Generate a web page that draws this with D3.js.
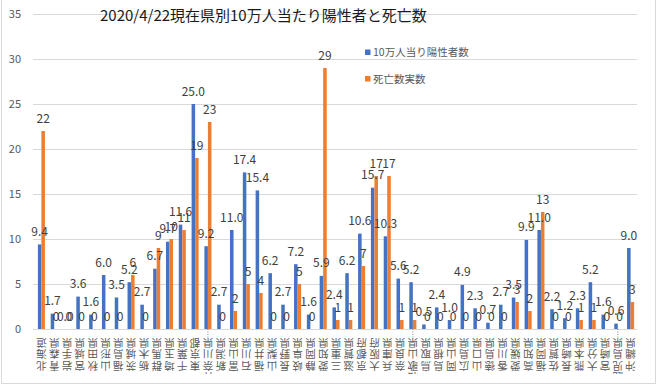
<!DOCTYPE html>
<html>
<head>
<meta charset="utf-8">
<style>
body { margin: 0; background: #fff; }
svg { display: block; font-family: "Noto Sans CJK JP", "Noto Sans", sans-serif; }
.grid line { stroke: #d9d9d9; stroke-width: 1px; }
.ytick { fill: #595959; font-size: 11px; }
.val { fill: #404040; font-size: 12px; }
.xlab { fill: #595959; font-size: 10.5px; }
.leg { fill: #595959; font-size: 10.5px; }
</style>
</head>
<body>
<svg width="658" height="387"></svg>
<script src="https://d3js.org/d3.v7.min.js"></script>
<script>

// 都道府県
var prefectures = ["北海道","青森県","岩手県","宮城県","秋田県","山形県","福島県","茨城県","栃木県","群馬県",
  "埼玉県","千葉県","東京都","神奈川県","新潟県","富山県","石川県","福井県","山梨県","長野県",
  "岐阜県","静岡県","愛知県","三重県","滋賀県","京都府","大阪府","兵庫県","奈良県","和歌山県",
  "鳥取県","島根県","岡山県","広島県","山口県","徳島県","香川県","愛媛県","高知県","福岡県",
  "佐賀県","長崎県","熊本県","大分県","宮崎県","鹿児島県","沖縄県"];

// 10万人当り陽性者数
var positives = [9.4,1.7,0.0,3.6,1.6,6.0,3.5,5.2,2.7,6.7,
  9.7,11.6,25.0,9.2,2.7,11.0,17.4,15.4,6.2,2.7,
  7.2,1.6,5.9,2.4,6.2,10.6,15.7,10.3,5.6,5.2,
  0.5,2.4,1.0,4.9,2.3,0.7,2.7,3.5,9.9,11.0,
  2.2,1.2,2.3,5.2,1.6,0.6,9.0];

// 死亡数実数
var deaths = [22,0,0,0,0,0,0,6,0,9,
  10,11,19,23,0,2,5,4,0,0,
  5,0,29,1,1,7,17,17,1,1,
  0,0,0,0,0,0,0,3,2,13,
  0,0,1,1,0,0,3];

var seriesNames = ["10万人当り陽性者数", "死亡数実数"];
var yTicks = [0,5,10,15,20,25,30,35];
var title = "2020/4/22現在県別10万人当たり陽性者と死亡数";

var colors = ["#4472C4", "#ED7D31"];

var svg = d3.select("svg");

// frame
svg.append("rect")
  .attr("x", 1.5).attr("y", -2)
  .attr("width", 654).attr("height", 385.5)
  .attr("fill", "none")
  .attr("stroke", "#d9d9d9");

var x = d3.scaleBand()
  .domain(prefectures)
  .range([35, 637])
  .paddingInner(0.45)
  .paddingOuter(0.225);

var xs = d3.scaleBand()
  .domain([0, 1])
  .range([0, x.bandwidth()]);

var y = d3.scaleLinear()
  .domain([0, 35])
  .range([329, 14]);

// gridlines
svg.append("g").attr("class", "grid")
  .selectAll("line")
  .data(yTicks)
  .enter().append("line")
    .attr("x1", 33).attr("x2", 637)
    .attr("y1", function(d){ return Math.round(y(d)) + 0.5; })
    .attr("y2", function(d){ return Math.round(y(d)) + 0.5; });

// y labels
svg.append("g")
  .selectAll("text")
  .data(yTicks)
  .enter().append("text")
    .attr("class", "ytick")
    .attr("x", 21)
    .attr("y", function(d){ return y(d) + 4; })
    .attr("text-anchor", "end")
    .text(function(d){ return d; });

// bars
var rows = prefectures.map(function(p, i){ return {name: p, vals: [positives[i], deaths[i]]}; });

var groups = svg.append("g")
  .selectAll("g")
  .data(rows)
  .enter().append("g")
    .attr("transform", function(d){ return "translate(" + x(d.name) + ",0)"; });

groups.selectAll("rect")
  .data(function(d){ return d.vals; })
  .enter().append("rect")
    .attr("x", function(d, i){ return xs(i); })
    .attr("width", xs.bandwidth())
    .attr("y", function(d){ return y(d); })
    .attr("height", function(d){ return y(0) - y(d); })
    .attr("fill", function(d, i){ return colors[i]; });

groups.selectAll("text")
  .data(function(d){ return d.vals; })
  .enter().append("text")
    .attr("class", "val")
    .attr("x", function(d, i){ return xs(i) + xs.bandwidth() / 2; })
    .attr("y", function(d){ return y(d) - 8.5; })
    .attr("text-anchor", "middle")
    .text(function(d, i){ return i === 0 ? d.toFixed(1) : d3.format("d")(d); });

// x labels (vertical, upside down)
svg.append("clipPath").attr("id", "labclip")
  .append("rect").attr("x", 0).attr("y", 331).attr("width", 658).attr("height", 43);

var xl = svg.append("g").attr("clip-path", "url(#labclip)");
rows.forEach(function(d){
  var cx = x(d.name) + x.bandwidth() / 2;
  var chars = d.name.split("").reverse();
  chars.forEach(function(c, j){
    var cy = 343.5 + j * 11.3;
    xl.append("text")
      .attr("class", "xlab")
      .attr("x", cx).attr("y", cy)
      .attr("text-anchor", "middle")
      .attr("dominant-baseline", "central")
      .attr("transform", "rotate(180," + cx + "," + cy + ")")
      .text(c);
  });
  if (d.name.length > 3) {
    svg.append("line")
      .attr("x1", cx).attr("x2", cx)
      .attr("y1", 329).attr("y2", 338)
      .attr("stroke", "#8c8c8c")
      .attr("stroke-dasharray", "1,1.5");
  }
});

// title
svg.append("text")
  .attr("x", 100).attr("y", 20.7)
  .attr("fill", "#1a1a1a")
  .style("font-size", "15px")
  .text(title);

// legend
var leg = svg.append("g")
  .selectAll("g")
  .data(seriesNames)
  .enter().append("g")
    .attr("transform", function(d, i){ return "translate(365," + (49.5 + i * 26.5) + ")"; });

leg.append("rect")
  .attr("width", 5.5).attr("height", 5.5)
  .attr("fill", function(d, i){ return colors[i]; });

leg.append("text")
  .attr("class", "leg")
  .attr("x", 8).attr("y", 6.6)
  .text(function(d){ return d; });

</script>
</body>
</html>
